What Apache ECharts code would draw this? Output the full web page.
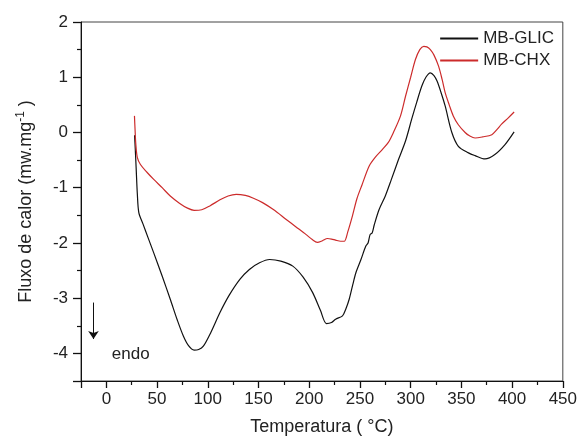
<!DOCTYPE html>
<html>
<head>
<meta charset="utf-8">
<script src="https://cdn.jsdelivr.net/npm/echarts@6/dist/echarts.min.js"></script>
<style>html,body{margin:0;padding:0;background:#fff;}#chart{width:580px;height:441px;}</style>
</head>
<body>
<div id="chart"></div>
<script>
const seriesNames = ['MB-GLIC', 'MB-CHX'];
const glicT = [27.8,28.5,29.5,30.5,32,36,41,46.7,55,63,70,76,81,86.5,91,95.6,103,112,121,131.6,141,151,161,172,183.8,194,203.4,211,217,222,226,232.8,236,239.4,243,246,251,255.7,258,260,262,264,268.8,275,281,288,295,301,306,311,315,319.4,323,326,330,334,340.6,347,357,363.5,373.3,383,393,402];
const glicV = [-0.05,-0.30,-0.70,-1.10,-1.45,-1.65,-1.90,-2.18,-2.60,-3.02,-3.40,-3.69,-3.86,-3.94,-3.93,-3.87,-3.62,-3.26,-2.95,-2.66,-2.48,-2.36,-2.30,-2.33,-2.42,-2.62,-2.90,-3.22,-3.46,-3.44,-3.38,-3.32,-3.20,-3.02,-2.75,-2.54,-2.30,-2.06,-2.00,-1.85,-1.82,-1.68,-1.40,-1.15,-0.85,-0.49,-0.15,0.24,0.55,0.84,1.00,1.08,1.03,0.93,0.72,0.48,0.0,-0.25,-0.37,-0.42,-0.48,-0.40,-0.22,0.01];
const chxT = [27.7,28.3,29,30.5,33.6,40,46.7,55,63,72,80,86.5,94,102,112,120,128,137,145,154,165,177,187,197,203,208,213,218,222,226,231,234.5,238,242.6,247,252,259,265,272,278,283,290,295,300,304.7,309,312.9,316,319.4,323,327.5,331,334,338,342,347,353.7,358,363.5,371,380,385,389.6,396,402];
const chxV = [0.30,0.05,-0.20,-0.45,-0.58,-0.72,-0.85,-1.00,-1.15,-1.28,-1.37,-1.41,-1.40,-1.33,-1.22,-1.15,-1.12,-1.14,-1.19,-1.27,-1.40,-1.57,-1.71,-1.85,-1.94,-1.99,-1.96,-1.92,-1.93,-1.95,-1.97,-1.97,-1.80,-1.51,-1.20,-0.95,-0.61,-0.45,-0.31,-0.18,0.0,0.30,0.66,1.00,1.32,1.50,1.56,1.55,1.50,1.40,1.20,0.96,0.72,0.50,0.30,0.14,0.0,-0.06,-0.10,-0.08,-0.04,0.05,0.15,0.26,0.37];
const xRange = [-25, 450];
const yRange = [-4.5, 2];
const arrowFrom = [-12.7, -3.08];
const arrowTo = [-12.7, -3.74];
const endoLabelAt = [24, -4.02];
const endoText = 'endo';
const xTitle = 'Temperatura ( °C)';

const zip = (a, b) => a.map((v, i) => [v, b[i]]);
const FONT = 'Liberation Sans, Arial, sans-serif';
const TXT = '#222';
const chart = echarts.init(document.getElementById('chart'), null, {renderer: 'canvas'});
chart.setOption({
  animation: false,
  backgroundColor: '#fff',
  textStyle: {fontFamily: FONT},
  grid: {left: 81, right: 15, top: 22, bottom: 59, show: true, borderColor: '#444', borderWidth: 1, backgroundColor: 'transparent'},
  legend: {
    orient: 'vertical', right: 21, top: 25, itemWidth: 38, itemHeight: 2, itemGap: 5,
    icon: 'rect',
    textStyle: {fontSize: 17, color: TXT, fontFamily: FONT},
    data: seriesNames
  },
  xAxis: {
    type: 'value', min: xRange[0], max: xRange[1], splitNumber: 9,
    name: xTitle, nameLocation: 'middle', nameGap: 37,
    nameTextStyle: {fontSize: 18, color: TXT, fontFamily: FONT},
    axisLine: {show: true, onZero: false, lineStyle: {color: '#111', width: 1}},
    axisTick: {show: true, inside: false, length: 7, lineStyle: {color: '#111', width: 1.3}},
    minorTick: {show: true, splitNumber: 2, length: 4, lineStyle: {color: '#111', width: 1.2}},
    axisLabel: {showMinLabel: false, fontSize: 17, color: TXT, margin: 10, fontFamily: FONT},
    splitLine: {show: false}, minorSplitLine: {show: false}
  },
  yAxis: {
    type: 'value', min: yRange[0], max: yRange[1], splitNumber: 6,
    name: 'Fluxo de calor (mw.mg{sup|-1} )', nameLocation: 'middle', nameGap: 43,
    nameTextStyle: {fontSize: 18, color: TXT, fontFamily: FONT, rich: {sup: {fontSize: 12, color: TXT, fontFamily: FONT, verticalAlign: 'top', lineHeight: 23}}},
    axisLine: {show: true, onZero: false, lineStyle: {color: '#111', width: 1}},
    axisTick: {show: true, inside: false, length: 8, lineStyle: {color: '#111', width: 1.3}},
    minorTick: {show: true, splitNumber: 2, length: 4, lineStyle: {color: '#111', width: 1.2}},
    axisLabel: {showMinLabel: false, fontSize: 17, color: TXT, margin: 13, fontFamily: FONT},
    splitLine: {show: false}, minorSplitLine: {show: false}
  },
  series: [{
    name: seriesNames[0], type: 'line', data: zip(glicT, glicV), symbol: 'none', smooth: 0.3,
    lineStyle: {color: '#111', width: 1.2}, itemStyle: {color: '#111'},
    markLine: {
      silent: true, symbol: ['none', 'arrow'], symbolSize: 8,
      lineStyle: {color: '#111', width: 1, type: 'solid'}, label: {show: false},
      data: [[{coord: arrowFrom}, {coord: arrowTo}]]
    },
    markPoint: {
      silent: true, symbol: 'circle', symbolSize: 1, itemStyle: {color: 'rgba(0,0,0,0)'},
      label: {show: true, position: 'inside', formatter: endoText, fontSize: 17, color: TXT, fontFamily: FONT},
      data: [{coord: endoLabelAt}]
    }
  }, {
    name: seriesNames[1], type: 'line', data: zip(chxT, chxV), symbol: 'none', smooth: 0.3,
    lineStyle: {color: '#cc2b2b', width: 1.2}, itemStyle: {color: '#cc2b2b'}
  }]
});
</script>
</body>
</html>
